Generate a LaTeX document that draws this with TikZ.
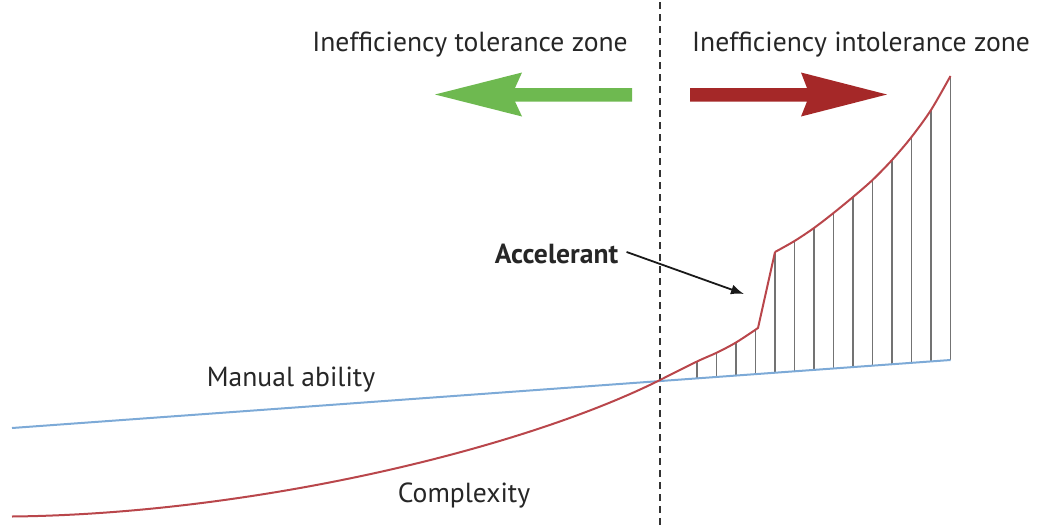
\documentclass[tikz,border=0pt]{standalone}
\usepackage{fontspec}
\setmainfont{PT Sans}
\usetikzlibrary{arrows.meta}

\definecolor{complexred}{RGB}{185,70,75}
\definecolor{abilityblue}{RGB}{125,170,215}
\definecolor{tolgreen}{RGB}{110,185,80}
\definecolor{intolred}{RGB}{165,40,40}
\definecolor{hatchgray}{RGB}{115,115,115}

\begin{document}
\begin{tikzpicture}[x=0.5pt,y=-0.5pt,
    zonelabel/.style={font=\fontsize{13.8}{16}\selectfont, text=black!85, inner sep=0pt, anchor=base},
    hatch/.style={draw=hatchgray, line width=0.7pt},
    pointer/.style={draw=black!90, line width=0.9pt, -{Latex[length=6.5pt,width=5pt]}}]
    \useasboundingbox (0,0) rectangle (1039,525);

    % zone border
    \draw[black!80, line width=1pt, dash pattern=on 3.5pt off 2.5pt] (660,2) -- (660,525);

    % zone arrows
    \fill[tolgreen] (632,88) -- (515,88) -- (522,72.5) -- (435,94.5) -- (522,116.5) -- (515,101.5) -- (632,101.5) -- cycle;
    \fill[intolred] (690,88) -- (807,88) -- (801,72.5) -- (887,94.5) -- (801,116.5) -- (807,101.5) -- (690,101.5) -- cycle;

    % gap between complexity and ability
    \draw[hatch] (697,361.5) -- (697,378.3);
    \draw[hatch] (716.5,352.8) -- (716.5,376.9);
    \draw[hatch] (736,342.5) -- (736,375.5);
    \draw[hatch] (755.5,329.8) -- (755.5,374.1);
    \draw[hatch] (775,252) -- (775,372.7);
    \draw[hatch] (794.5,241) -- (794.5,371.3);
    \draw[hatch] (814,228) -- (814,369.9);
    \draw[hatch] (833.5,213) -- (833.5,368.5);
    \draw[hatch] (853,197) -- (853,367.0);
    \draw[hatch] (872.5,180) -- (872.5,365.6);
    \draw[hatch] (892,160) -- (892,364.2);
    \draw[hatch] (911.5,137) -- (911.5,362.8);
    \draw[hatch] (931,110) -- (931,361.4);
    \draw[hatch] (950.5,76) -- (950.5,360.0);

    % manual ability
    \draw[abilityblue, line width=1pt] (12,428) -- (950.5,360);

    % complexity
    \draw[complexred, line width=1pt, line join=round]
        (12,516.5) .. controls (250,514) and (520,450) .. (660,380)
        plot[smooth] coordinates {(660,380) (697,361.5) (716.5,352.8) (736,342.5) (758,328)}
        -- (775,252)
        plot[smooth] coordinates {(775,252) (794.5,241) (814,228) (833.5,213) (853,197) (872.5,180) (892,160) (911.5,137) (931,110) (950.5,76)};

    % labels
    \node[zonelabel] (tolerant) at (470,51) {Inefficiency tolerance zone};
    \node[zonelabel] (intolerant) at (861,51) {Inefficiency intolerance zone};
    \node[zonelabel] (manual) at (291,386) {Manual ability};
    \node[zonelabel] (complex) at (464,502) {Complexity};
    \node[zonelabel, font=\fontsize{13.8}{16}\selectfont\bfseries] (accel) at (556.5,263.5) {Accelerant};

    \coordinate (acctip) at (744,294);
    \draw[pointer] ([xshift=4pt,yshift=1pt]accel.east) -- (acctip);
\end{tikzpicture}
\end{document}
